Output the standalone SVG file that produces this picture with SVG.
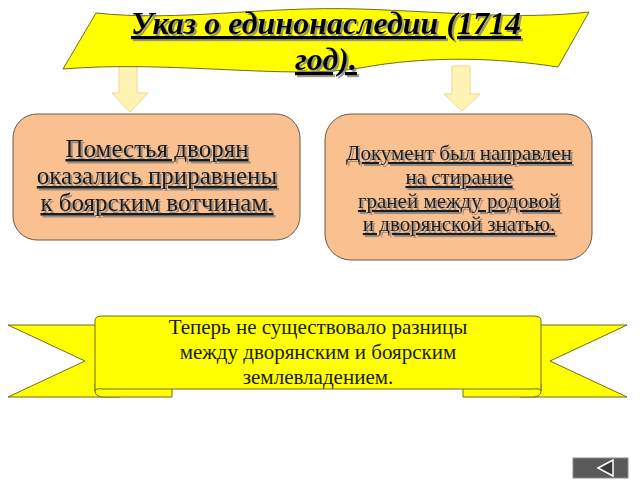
<svg xmlns="http://www.w3.org/2000/svg" width="640" height="480" viewBox="0 0 640 480">
  <defs>
    <filter id="sh" x="-10%" y="-30%" width="120%" height="160%">
      <feOffset in="SourceAlpha" dx="1.5" dy="1.5" result="o"/>
      <feFlood flood-color="#808080" flood-opacity="0.8"/>
      <feComposite in2="o" operator="in" result="s"/>
      <feMerge><feMergeNode in="s"/><feMergeNode in="SourceGraphic"/></feMerge>
    </filter>
  </defs>
  <style>
    .yel { fill: #FFFF00; stroke: #6E6E1E; stroke-width: 1; }
    .box { fill: #FAC090; stroke: #6B5A4A; stroke-width: 1; }
    .arrow { fill: #FFF4B4; stroke: #EAD98E; stroke-width: 1; }
    .title { font-family: "Liberation Serif", "Times New Roman", serif; font-weight: bold; font-style: italic; font-size: 32px; text-decoration: underline; fill: #000; text-anchor: middle; }
    .bt { font-family: "Liberation Serif", "Times New Roman", serif; text-decoration: underline; fill: #1a1a1a; text-anchor: middle; }
    .rt { font-family: "Liberation Serif", "Times New Roman", serif; font-size: 21px; fill: #1a1a1a; text-anchor: middle; }
  </style>
  <rect width="640" height="480" fill="#FFFFFF"/>

  <g id="connectors">
    <path class="arrow" d="M119,66 L137,66 L137,93 L148,93 L130,112 L112,93 L119,93 Z"/>
    <path class="arrow" d="M452,66 L470,66 L470,94 L480,94 L462,111 L444,94 L452,94 Z"/>
  </g>

  <g id="title-banner">
    <path class="yel" d="M96,13 C180,22 260,6 360,9 C450,12 520,20 589,12 L558,67 C500,58 430,55 360,68 C290,80 170,60 63,69 Z"/>
    <text class="title" filter="url(#sh)" x="326" y="34">Указ о единонаследии (1714</text>
    <text class="title" filter="url(#sh)" x="326" y="70">год).</text>
  </g>

  <g id="box-left">
    <rect class="box" x="13" y="114" width="287" height="126" rx="24" ry="24"/>
    <text class="bt" filter="url(#sh)" font-size="25" x="157" y="157">Поместья дворян</text>
    <text class="bt" filter="url(#sh)" font-size="25" x="157" y="184">оказались приравнены</text>
    <text class="bt" filter="url(#sh)" font-size="25" x="157" y="211">к боярским вотчинам.</text>
  </g>

  <g id="box-right">
    <rect class="box" x="325" y="114" width="267" height="146" rx="26" ry="26"/>
    <text class="bt" filter="url(#sh)" font-size="21" x="459" y="160">Документ был направлен</text>
    <text class="bt" filter="url(#sh)" font-size="21" x="459" y="184">на стирание</text>
    <text class="bt" filter="url(#sh)" font-size="21" x="459" y="208">граней между родовой</text>
    <text class="bt" filter="url(#sh)" font-size="21" x="459" y="231">и дворянской знатью.</text>
  </g>

  <g id="ribbon">
    <path class="yel" d="M8,325 L120,325 L120,397 L8,397 L85,361 Z"/>
    <path class="yel" d="M627,325 L520,325 L520,397 L627,397 L550,361 Z"/>
    <path class="yel" d="M95,384 L95,391 Q95,397 104,397 L172,397 L172,384 Z"/>
    <path class="yel" d="M541,384 L541,391 Q541,397 532,397 L463,397 L463,384 Z"/>
    <path class="yel" d="M95,391 L95,320 Q95,316 103,316 L533,316 Q541,316 541,320 L541,391 Q541,388 532,389 L104,389 Q95,388 95,391 Z"/>
    <text class="rt" x="318" y="334">Теперь не существовало разницы</text>
    <text class="rt" x="318" y="359">между дворянским и боярским</text>
    <text class="rt" x="318" y="384">землевладением.</text>
  </g>

  <g id="nav-button">
    <rect x="573" y="458" width="55" height="20" fill="#5A5A5A" stroke="#8C8C8C" stroke-width="1"/>
    <polygon points="598,468 613,460 613,476" fill="#3A3A3A" stroke="#FFFFFF" stroke-width="1.5"/>
  </g>
</svg>
